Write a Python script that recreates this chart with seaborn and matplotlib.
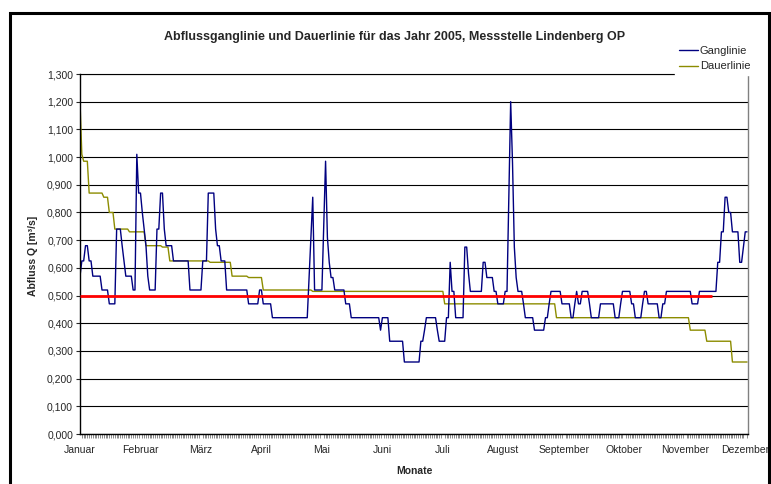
import numpy as np
import pandas as pd
import matplotlib
matplotlib.use("Agg")
import matplotlib.pyplot as plt
from matplotlib.patches import Rectangle
from matplotlib.ticker import FuncFormatter, MultipleLocator
import seaborn as sns

# Ganglinie 2005 as runs: discharge [m3/s] and number of days at that value
gang_werte = [0.57, 0.625, 0.68, 0.625, 0.57, 0.52, 0.47, 0.74, 0.68, 0.625,
              0.57, 0.52, 1.01, 0.87, 0.80, 0.74, 0.68, 0.57, 0.52, 0.74,
              0.87, 0.74, 0.68, 0.625, 0.52, 0.625, 0.87, 0.74, 0.68, 0.625,
              0.52, 0.47, 0.52, 0.47, 0.42, 0.565, 0.71, 0.855, 0.52, 0.75,
              0.985, 0.71, 0.62, 0.565, 0.52, 0.47, 0.42, 0.375, 0.42, 0.335,
              0.26, 0.335, 0.375, 0.42, 0.375, 0.335, 0.42, 0.62, 0.515, 0.42,
              0.675, 0.58, 0.515, 0.62, 0.565, 0.515, 0.47, 0.515, 0.86, 1.2,
              0.98, 0.675, 0.565, 0.515, 0.47, 0.42, 0.375, 0.42, 0.47, 0.515,
              0.47, 0.42, 0.47, 0.515, 0.47, 0.515, 0.47, 0.42, 0.47, 0.42,
              0.47, 0.515, 0.47, 0.42, 0.47, 0.515, 0.47, 0.42, 0.47, 0.515,
              0.47, 0.515, 0.62, 0.73, 0.855, 0.80, 0.73, 0.62, 0.675, 0.73]
gang_tage = [1, 2, 2, 2, 5, 4, 4, 3, 1, 1,
             4, 2, 1, 2, 1, 1, 1, 1, 4, 2,
             2, 1, 4, 9, 7, 3, 4, 1, 2, 3,
             12, 6, 2, 5, 20, 1, 1, 1, 5, 1,
             1, 1, 1, 2, 6, 3, 16, 1, 4, 8,
             9, 2, 1, 6, 1, 4, 2, 1, 2, 5,
             2, 1, 7, 2, 4, 2, 4, 2, 1, 1,
             1, 1, 1, 3, 1, 5, 6, 2, 1, 6,
             5, 2, 1, 1, 2, 4, 1, 5, 8, 3,
             1, 5, 2, 4, 1, 2, 6, 2, 2, 14,
             4, 10, 2, 2, 2, 2, 4, 2, 1, 2]

# Dauerlinie: sorted discharge levels and their number of days
dauer_werte = [1.2, 1.01, 0.985, 0.87, 0.855, 0.80, 0.74, 0.73, 0.68, 0.675, 0.625,
               0.62, 0.57, 0.565, 0.52, 0.515, 0.47, 0.42, 0.375, 0.335, 0.26]
dauer_tage = [1, 1, 3, 8, 3, 3, 8, 9, 9, 4, 22,
              12, 9, 8, 27, 72, 61, 73, 9, 14, 9]

# mean discharge line (red) and how far it is drawn
mq_wert = 0.5
mq_bis_tag = 345

monate = ["Januar", "Februar", "März", "April", "Mai", "Juni", "Juli",
          "August", "September", "Oktober", "November", "Dezember"]
label_intervall = 33  # category axis shows a label every 33 days

gang = np.repeat(gang_werte, gang_tage)
dauer = np.repeat(dauer_werte, dauer_tage)
tage = np.arange(len(gang))

df = pd.concat([
    pd.DataFrame({"Tag": tage, "Abfluss": gang, "Reihe": "Ganglinie"}),
    pd.DataFrame({"Tag": np.arange(len(dauer)), "Abfluss": dauer, "Reihe": "Dauerlinie"}),
])

sns.set_style("white")
plt.rcParams["font.family"] = ["Liberation Sans", "DejaVu Sans"]

fig = plt.figure(figsize=(7.71, 4.84), dpi=100)
ax = fig.add_axes([80 / 771, 1 - 434 / 484, 668 / 771, 360 / 484])

farben = {"Ganglinie": "#000080", "Dauerlinie": "#8c8c00"}
sns.lineplot(data=df, x="Tag", y="Abfluss", hue="Reihe",
             hue_order=["Dauerlinie", "Ganglinie"], palette=farben,
             estimator=None, sort=False, linewidth=1.0, ax=ax, legend=True)
ax.hlines(mq_wert, 0, mq_bis_tag, color="#ff0000", linewidth=2.0, zorder=5)

ax.set_xlim(0, len(gang) - 0.5)
ax.set_ylim(0, 1.3)
ax.yaxis.set_major_locator(MultipleLocator(0.1))
ax.yaxis.set_major_formatter(FuncFormatter(lambda v, p: f"{v:.3f}".replace(".", ",")))
ax.grid(axis="y", color="black", linewidth=0.8)
ax.set_axisbelow(True)

ax.set_xticks(np.arange(len(monate)) * label_intervall)
ax.set_xticklabels(monate)
ax.set_xticks(tage, minor=True)
ax.tick_params(axis="x", which="major", length=0, pad=8, labelsize=7.5)
ax.tick_params(axis="x", which="minor", bottom=True, length=3, width=0.4, color="#333333")
ax.tick_params(axis="y", which="major", left=True, length=3, width=0.8, pad=2, labelsize=7.5)
ax.set_xlabel("")
ax.set_ylabel("")

for s in ["left", "bottom"]:
    ax.spines[s].set_color("black")
    ax.spines[s].set_linewidth(1.0)
ax.spines["top"].set_color("black")
ax.spines["top"].set_linewidth(0.8)
ax.spines["right"].set_color("#808080")
ax.spines["right"].set_linewidth(1.0)

handles, labels = ax.get_legend_handles_labels()
order = [labels.index("Ganglinie"), labels.index("Dauerlinie")]
leg = ax.legend([handles[i] for i in order], [labels[i] for i in order],
                loc="upper left", bbox_to_anchor=(675 / 771, 1 - 42 / 484),
                bbox_transform=fig.transFigure, borderaxespad=0, frameon=True,
                facecolor="white", edgecolor="white", framealpha=1, fancybox=False,
                fontsize=8, handlelength=1.7, handletextpad=0.2, labelspacing=0.5,
                borderpad=0.35)
leg.set_zorder(10)

fig.text(395 / 771, 1 - 37 / 484,
         "Abflussganglinie und Dauerlinie für das Jahr 2005, Messstelle Lindenberg OP",
         ha="center", va="center", fontsize=9, fontweight="bold")
fig.text(33 / 771, 1 - 256 / 484, "Abfluss Q [m³/s]", rotation=90,
         ha="center", va="center", fontsize=7.5, fontweight="bold")
fig.text(414 / 771, 1 - 471 / 484, "Monate", ha="center", va="center",
         fontsize=7.5, fontweight="bold")

fig.patches.append(Rectangle((9.5 / 771, -0.1), 759 / 771, 1.1 - 13 / 484,
                             transform=fig.transFigure, fill=False,
                             edgecolor="black", linewidth=2.2))

fig.savefig("out.png", dpi=100, facecolor="white")
